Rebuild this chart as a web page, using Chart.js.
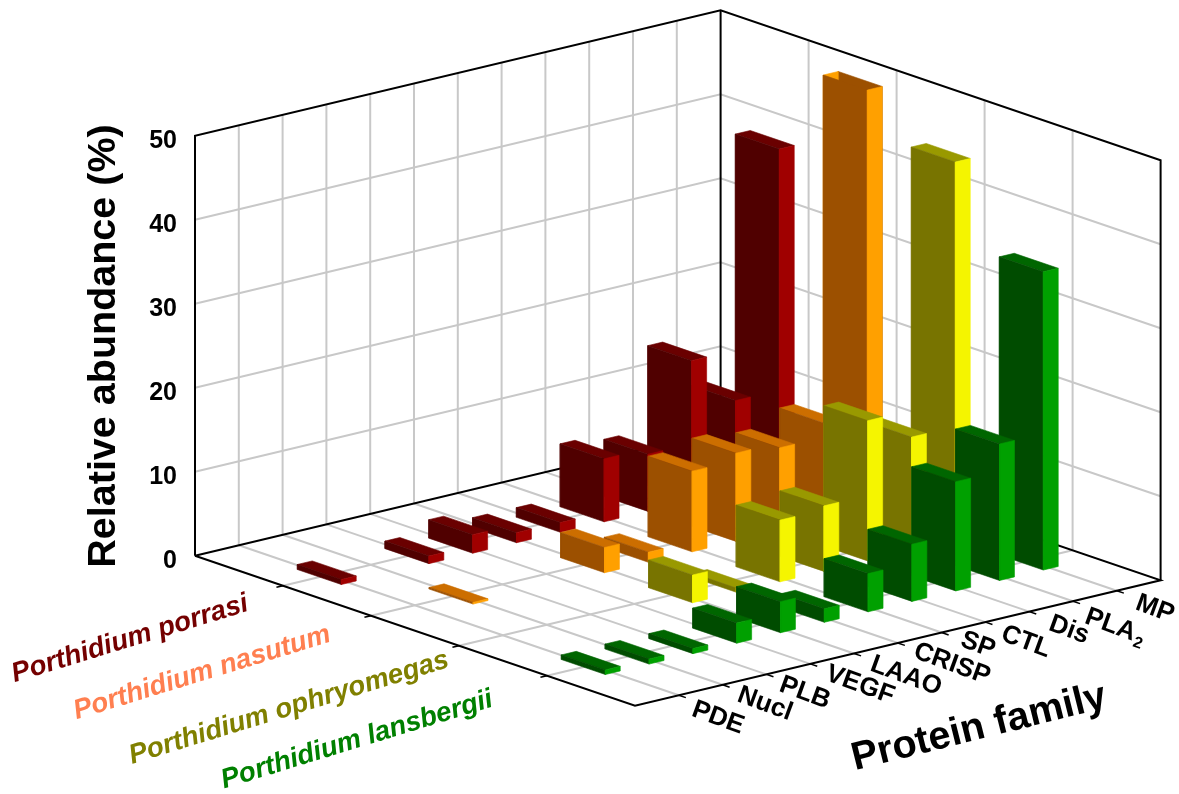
<!DOCTYPE html>
<html>
<head>
<meta charset="utf-8">
<title>Relative abundance by protein family</title>
<script src="https://cdn.jsdelivr.net/npm/chart.js@4"></script>
<style>
  body { margin: 0; background: #fff; }
  canvas { display: block; }
</style>
</head>
<body>
<canvas id="bar3d" width="1179" height="794"></canvas>
<script>
var families = ["PDE", "Nucl", "PLB", "VEGF", "LAAO", "CRISP", "SP", "CTL", "Dis", "PLA2", "MP"];
var speciesNames = ["Porthidium porrasi", "Porthidium nasutum", "Porthidium ophryomegas", "Porthidium lansbergii"];
var abundanceTicks = [0, 10, 20, 30, 40, 50];

var porrasi    = [0.6, 0, 0.9, 2.2, 1.2, 1.15, 7.5, 6.8, 16.7, 10.7, 39.4];
var nasutum    = [0, 0.2, 0, 0, 3, 1.2, 9.6, 10.5, 9.9, 11.6, 50];
var ophryomegas = [0, 0, 0, 0, 3.3, 0.5, 7.35, 7.8, 16.7, 13.5, 45];
var lansbergii = [0.55, 0.6, 0.6, 2.4, 3.7, 1.6, 4.55, 6.8, 13, 16.25, 35.5];
var speciesValues = [porrasi, nasutum, ophryomegas, lansbergii];

var leftColors  = ["#500000", "#9c5000", "#787400", "#004c00"];
var rightColors = ["#a00000", "#ffa000", "#f5f500", "#00a000"];
var topColors   = ["#6a0000", "#cc6e00", "#999900", "#006600"];
var labelColors = ["#740000", "#ff7f50", "#808000", "#008000"];

var zMax = 50;
var familySpan = 12;
var speciesSpan = 5;

// oblique projection of the box: f along protein family, s along species, z up
function project(f, s, z) {
  return {
    x: 195 + 43.8 * f + 88 * s,
    y: 555.7 - 10.45 * f + 30 * s - 8.4 * z
  };
}

var datasets = [];

function addLine(points, color, width) {
  datasets.push({
    data: points,
    borderColor: color,
    borderWidth: width,
    pointRadius: 0,
    fill: false,
    tension: 0,
    clip: false
  });
}

function addFace(points, color) {
  datasets.push({
    data: points.concat([points[0]]),
    borderColor: color,
    backgroundColor: color,
    borderWidth: 0.6,
    pointRadius: 0,
    fill: "shape",
    tension: 0,
    clip: false
  });
}

var grey = "#c8c8c8";
var i, j;

// walls
abundanceTicks.slice(1, 5).forEach(function (z) {
  addLine([project(0, 0, z), project(familySpan, 0, z), project(familySpan, speciesSpan, z)], grey, 2);
});
for (i = 1; i < familySpan; i++) addLine([project(i, 0, 0), project(i, 0, zMax)], grey, 2);
for (i = 1; i < speciesSpan; i++) addLine([project(familySpan, i, 0), project(familySpan, i, zMax)], grey, 2);

// floor
for (i = 1; i < familySpan; i++) addLine([project(i, 0, 0), project(i, speciesSpan, 0)], grey, 2);
for (i = 1; i < speciesSpan; i++) addLine([project(0, i, 0), project(familySpan, i, 0)], grey, 2);

// box edges
addLine([project(0, 0, 0), project(0, 0, zMax), project(familySpan, 0, zMax), project(familySpan, speciesSpan, zMax), project(familySpan, speciesSpan, 0)], "#000", 2);
addLine([project(familySpan, 0, zMax), project(familySpan, 0, 0)], "#000", 2);
addLine([project(0, 0, 0), project(familySpan, 0, 0), project(familySpan, speciesSpan, 0), project(0, speciesSpan, 0), project(0, 0, 0)], "#000", 2);

// axis ticks
for (i = 1; i < speciesSpan; i++) addLine([project(0, i, 0), project(-0.15, i, 0)], "#000", 1.5);
for (i = 1; i < familySpan; i++) addLine([project(i, speciesSpan, 0), project(i, speciesSpan + 0.08, 0)], "#000", 1.5);

// bars, back to front
var halfF = 0.17;
var halfS = 0.25;
for (j = 0; j < speciesValues.length; j++) {
  for (i = families.length - 1; i >= 0; i--) {
    var v = speciesValues[j][i];
    if (!v) continue;
    var f = i + 1, s = j + 1;
    var f0 = f - halfF, f1 = f + halfF, s0 = s - halfS, s1 = s + halfS;
    if (v >= zMax) {
      // clipped at the top of the box, so the inside of the bar shows
      addFace([project(f1, s0, 0), project(f1, s1, 0), project(f1, s1, v), project(f1, s0, v)], leftColors[j]);
      addFace([project(f0, s0, 0), project(f1, s0, 0), project(f1, s0, v), project(f0, s0, v)], rightColors[j]);
    } else {
      addFace([project(f0, s0, v), project(f1, s0, v), project(f1, s1, v), project(f0, s1, v)], topColors[j]);
    }
    addFace([project(f0, s0, 0), project(f0, s1, 0), project(f0, s1, v), project(f0, s0, v)], leftColors[j]);
    addFace([project(f0, s1, 0), project(f1, s1, 0), project(f1, s1, v), project(f0, s1, v)], rightColors[j]);
  }
}

function drawText(ctx, text, x, y, angle, font, color) {
  ctx.save();
  ctx.translate(x, y);
  ctx.rotate(angle * Math.PI / 180);
  ctx.font = font;
  ctx.fillStyle = color;
  ctx.textAlign = "center";
  ctx.textBaseline = "middle";
  if (text === "PLA2") {
    // subscript 2
    var w = ctx.measureText("PLA").width;
    ctx.fillText("PLA", -6, 0);
    ctx.font = "bold 16px 'Liberation Sans'";
    ctx.fillText("2", w / 2, 8);
  } else {
    ctx.fillText(text, 0, 0);
  }
  ctx.restore();
}

var familyLabelCentres = [[718, 718], [765, 704], [805, 693], [860, 685], [906, 676], [952, 664], [978, 645], [1026, 642], [1069, 630], [1116, 627], [1155, 609]];
var speciesLabelCentres = [[130, 639], [202, 673], [289, 708], [357, 740]];

var axisLabels = {
  id: "axisLabels",
  afterDraw: function (chart) {
    var ctx = chart.ctx;
    var sx = chart.scales.x, sy = chart.scales.y;

    abundanceTicks.forEach(function (z) {
      var p = project(0, 0, z);
      ctx.save();
      ctx.font = "bold 25px 'Liberation Sans'";
      ctx.fillStyle = "#000";
      ctx.textAlign = "right";
      ctx.textBaseline = "middle";
      ctx.fillText(String(z), sx.getPixelForValue(p.x) - 18, sy.getPixelForValue(p.y) + 5);
      ctx.restore();
    });
    drawText(ctx, "Relative abundance (%)", 104, 346, -90, "bold 39.5px 'Liberation Sans'", "#000");

    families.forEach(function (name, k) {
      drawText(ctx, name, familyLabelCentres[k][0], familyLabelCentres[k][1], 20, "bold 26px 'Liberation Sans'", "#000");
    });
    drawText(ctx, "Protein family", 979, 728, -14, "bold 39.5px 'Liberation Sans'", "#000");

    speciesNames.forEach(function (name, k) {
      drawText(ctx, name, speciesLabelCentres[k][0], speciesLabelCentres[k][1], -17, "italic bold 27.5px 'Liberation Sans'", labelColors[k]);
    });
  }
};

var chart = new Chart(document.getElementById("bar3d").getContext("2d"), {
  type: "line",
  data: { datasets: datasets.reverse() },
  options: {
    responsive: false,
    animation: false,
    layout: { padding: 0 },
    plugins: { legend: { display: false }, tooltip: { enabled: false } },
    scales: {
      x: { type: "linear", min: 0, max: 1179, display: false },
      y: { type: "linear", min: 0, max: 794, reverse: true, display: false }
    }
  },
  plugins: [axisLabels]
});
</script>
</body>
</html>
